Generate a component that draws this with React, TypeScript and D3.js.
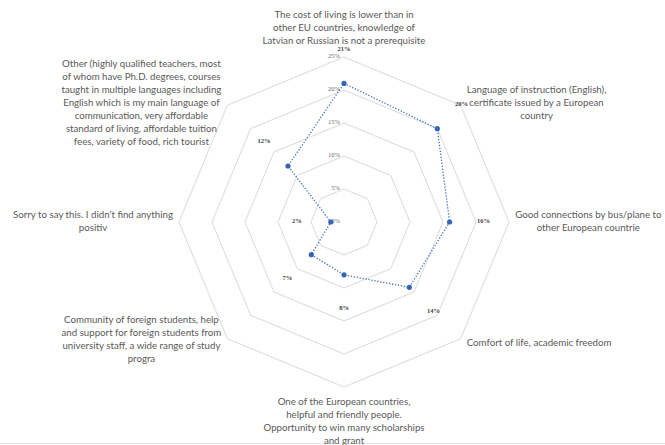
import React, { useRef, useEffect } from "react";
import * as d3 from "d3";

// categories, clockwise from the top, already wrapped like the source
const categories: string[][] = [
  ["The cost of living is lower than in", "other EU countries, knowledge of", "Latvian or Russian is not a prerequisite"],
  ["Language of instruction (English),", "certificate issued by a European", "country"],
  ["Good connections by bus/plane to", "other European countrie"],
  ["Comfort of life, academic freedom"],
  ["One of the European countries,", "helpful and friendly people.", "Opportunity to win many scholarships", "and grant"],
  ["Community of foreign students, help", "and support for foreign students from", "university staff, a wide range of study", "progra"],
  ["Sorry to say this. I didn't find anything", "positiv"],
  ["Other (highly qualified teachers, most", "of whom have Ph.D. degrees, courses", "taught in multiple languages including", "English which is my main language of", "communication, very affordable", "standard of living, affordable tuition", "fees, variety of food, rich tourist"],
];
const values = [0.21, 0.2, 0.16, 0.14, 0.08, 0.07, 0.02, 0.12];
const ticks = [0, 0.05, 0.1, 0.15, 0.2, 0.25];

const App = () => {
  const svgRef = useRef<SVGSVGElement>(null);

  useEffect(() => {
    const svg = d3.select(svgRef.current);
    svg.selectAll("*").remove();
    const width = 665,
      height = 445,
      cx = 344,
      cy = 222,
      radius = 165,
      n = categories.length;

    const r = d3.scaleLinear().domain([0, 0.25]).range([0, radius]);
    const angle = (i: number) => (i * 2 * Math.PI) / n;
    const px = (i: number, rr: number) => cx + rr * Math.sin(angle(i));
    const py = (i: number, rr: number) => cy - rr * Math.cos(angle(i));
    const pct = d3.format(".0%");

    svg.append("rect").attr("width", width).attr("height", height).attr("fill", "#fff");
    svg
      .append("line")
      .attr("x1", 0)
      .attr("x2", width)
      .attr("y1", 443.5)
      .attr("y2", 443.5)
      .attr("stroke", "#e8e8e8");

    const g = svg.append("g").attr("transform", `translate(${cx},${cy})`);

    // octagon grid
    g.selectAll(".ring")
      .data(ticks.filter((t) => t > 0))
      .enter()
      .append("path")
      .attr("class", "ring")
      .attr("fill", "none")
      .attr("stroke", "#d9d9d9")
      .attr("stroke-width", 1)
      .attr("d", (t) =>
        d3
          .lineRadial<number>()
          .angle((_, i) => angle(i))
          .radius(() => r(t))
          .curve(d3.curveLinearClosed)(d3.range(n))
      );

    // axis tick labels
    g.selectAll(".tick")
      .data(ticks)
      .enter()
      .append("text")
      .attr("class", "tick")
      .attr("x", -4)
      .attr("y", (t) => -r(t))
      .attr("text-anchor", "end")
      .attr("dominant-baseline", "middle")
      .style("font-family", "Liberation Serif")
      .style("font-size", "6.5px")
      .attr("fill", "#6b6b6b")
      .text((t) => pct(t));

    // series
    g.append("path")
      .attr("fill", "none")
      .attr("stroke", "#4472c4")
      .attr("stroke-width", 1.3)
      .attr("stroke-dasharray", "1.3 1.7")
      .attr(
        "d",
        d3
          .lineRadial<number>()
          .angle((_, i) => angle(i))
          .radius((d) => r(d))
          .curve(d3.curveLinearClosed)(values)
      );

    g.selectAll(".dot")
      .data(values)
      .enter()
      .append("circle")
      .attr("class", "dot")
      .attr("cx", (d, i) => px(i, r(d)) - cx)
      .attr("cy", (d, i) => py(i, r(d)) - cy)
      .attr("r", 2.6)
      .attr("fill", "#3565b5");

    // data labels
    g.selectAll(".val")
      .data(values)
      .enter()
      .append("text")
      .attr("class", "val")
      .attr("x", (d, i) => px(i, r(d) + 34) - cx)
      .attr("y", (d, i) => py(i, r(d) + 34) - cy)
      .attr("text-anchor", "middle")
      .attr("dominant-baseline", "middle")
      .style("font-family", "Liberation Serif")
      .style("font-weight", "bold")
      .style("font-size", "6.5px")
      .attr("fill", "#404040")
      .text((d) => pct(d));

    // category labels
    const lineH = 13;
    categories.forEach((lines, i) => {
      const vx = px(i, radius),
        vy = py(i, radius);
      const s = Math.sin(angle(i)),
        c = Math.cos(angle(i));
      const txt = svg
        .append("text")
        .style("font-family", "Lato")
        .style("font-size", "9.7px")
        .attr("fill", "#595959")
        .attr("text-anchor", "middle");
      lines.forEach((l, k) => {
        txt.append("tspan").attr("x", 0).attr("y", k * lineH).text(l);
      });
      const bb = (txt.node() as SVGTextElement).getBBox();
      const w = bb.width,
        h = lines.length * lineH;
      let mx: number, my: number;
      if (Math.abs(s) < 0.01) {
        mx = vx;
        my = c > 0 ? vy - 9.5 - h / 2 : vy + 9 + h / 2;
      } else {
        mx = s > 0 ? vx + 6 + w / 2 : vx - 6 - w / 2;
        my = vy - 2 * c + (s > 0 && c < 0 ? 3 : 0);
      }
      txt.attr("transform", `translate(${mx},${my - h / 2 + 9})`);
    });
  }, []);

  return (
    <svg
      ref={svgRef}
      width={665}
      height={445}
      style={{ position: "absolute", left: 0, top: 0, display: "block" }}
    ></svg>
  );
};

export default App;
